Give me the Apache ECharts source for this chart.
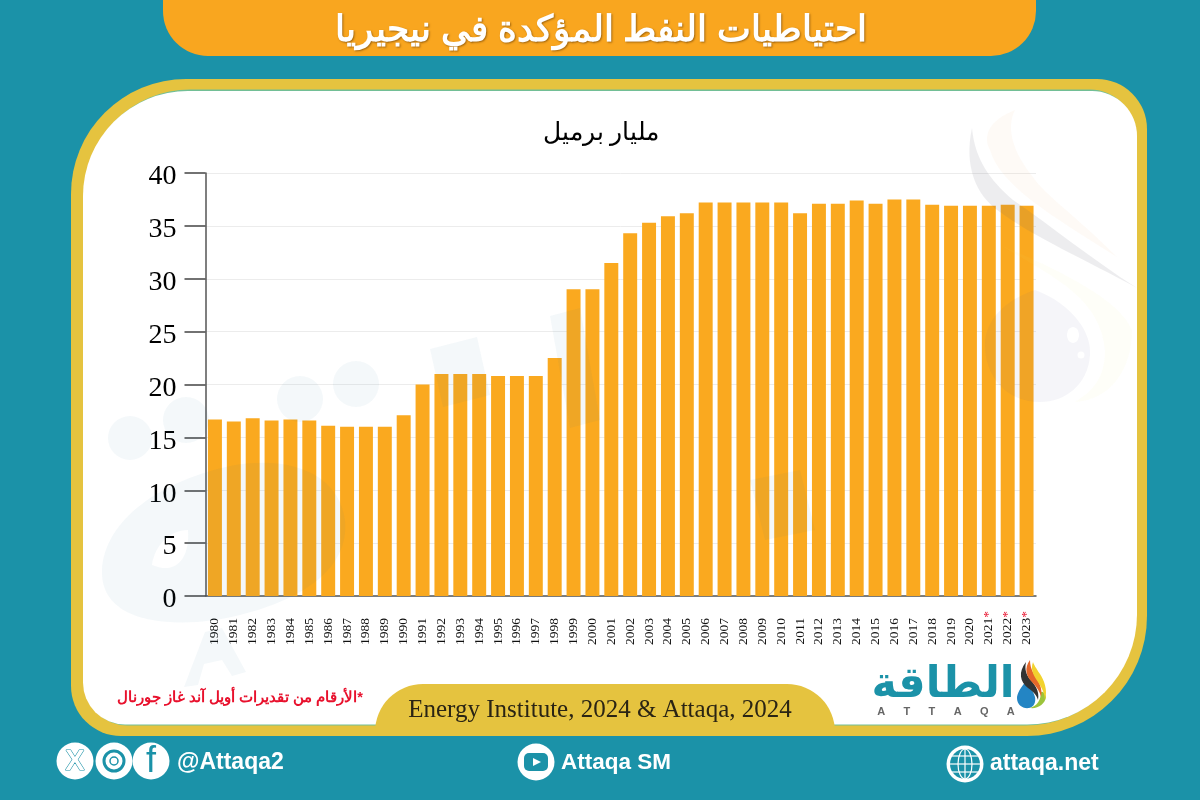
<!DOCTYPE html>
<html>
<head>
<meta charset="utf-8">
<title>احتياطيات النفط المؤكدة في نيجيريا</title>
<script src="https://cdn.jsdelivr.net/npm/echarts@6/dist/echarts.min.js"></script>
<style>
  html, body { margin: 0; padding: 0; background: #1b92a8; }
  #chart { width: 1200px; height: 800px; }
</style>
</head>
<body>
<div id="chart"></div>
<script>
const years = ['1980','1981','1982','1983','1984','1985','1986','1987','1988','1989','1990','1991','1992','1993','1994','1995','1996','1997','1998','1999','2000','2001','2002','2003','2004','2005','2006','2007','2008','2009','2010','2011','2012','2013','2014','2015','2016','2017','2018','2019','2020','2021','2022','2023'];
const reserves = [16.7,16.5,16.8,16.6,16.7,16.6,16.1,16,16,16,17.1,20,21,21,21,20.8,20.8,20.8,22.5,29,29,31.5,34.3,35.3,35.9,36.2,37.2,37.2,37.2,37.2,37.2,36.2,37.1,37.1,37.4,37.1,37.5,37.5,37,36.9,36.9,36.9,37,36.9];
const estimatedYears = ['2021','2022','2023'];

const teal = '#1b92a8';
const gold = '#e5c33f';
const orange = '#f9a61f';
const serif = '"Liberation Serif", serif';
const sans = '"Liberation Sans", sans-serif';

const myChart = echarts.init(document.getElementById('chart'), null, { renderer: 'canvas' });

function text(x, y, str, size, fill, extra, el) {
  return Object.assign({
    type: 'text', z: 20, x, y,
    style: Object.assign({ text: str, fontSize: size, fill, fontFamily: sans, align: 'center', verticalAlign: 'middle' }, extra)
  }, el);
}
// the graphic component has no plain 'path' type, so each outline gets registered as a shape
let shapeCount = 0;
function outline(pathData, fill, z) {
  const name = 'outline' + shapeCount++;
  echarts.graphic.registerShape(name, echarts.graphic.extendPath(pathData, {}));
  return { type: name, z: z || 15, style: { fill } };
}
function disc(cx, cy, r, fill) {
  return { type: 'circle', z: 15, shape: { cx, cy, r }, style: { fill } };
}
const faint = 'rgba(40,110,150,0.05)';

const frame = [
  { type: 'rect', z: -10, shape: { x: 71, y: 79, width: 1076, height: 657, r: [115, 50, 120, 50] }, style: { fill: gold } },
  { type: 'rect', z: -9, shape: { x: 85, y: 89.5, width: 1050, height: 636, r: [105, 45, 110, 42] }, style: { fill: '#72bf96' } },
  { type: 'rect', z: -8, shape: { x: 83, y: 91, width: 1054, height: 633.5, r: [105, 45, 110, 42] }, style: { fill: '#fff' } },
  { type: 'rect', z: 5, shape: { x: 163, y: -40, width: 873, height: 96, r: [0, 0, 45, 45] }, style: { fill: orange } },
  { type: 'rect', z: 5, shape: { x: 375, y: 684, width: 460, height: 100, r: [48, 48, 0, 0] }, style: { fill: gold } },
  { type: 'rect', z: 6, shape: { x: 360, y: 736, width: 490, height: 50 }, style: { fill: teal } }
];

const watermark = [
  outline('M972 128 C964 165 975 195 1000 212 C1030 235 1090 262 1137 288 C1090 258 1050 225 1013 200 C990 180 975 160 972 128 Z', 'rgba(90,90,110,0.11)'),
  outline('M1015 110 C990 120 982 135 990 150 C1000 185 1050 215 1117 257 C1075 215 1045 195 1033 177 C1015 155 1005 130 1015 110 Z', 'rgba(240,150,80,0.05)'),
  outline('M1035 290 C1075 305 1092 335 1090 355 C1088 385 1065 402 1040 402 C1005 402 985 375 985 345 C985 320 1005 300 1035 290 Z', 'rgba(80,80,150,0.06)'),
  outline('M1000 245 C1060 280 1100 300 1105 350 C1105 385 1085 395 1075 402 C1110 400 1132 370 1132 330 C1120 300 1060 270 1000 245 Z', 'rgba(230,230,120,0.05)'),
  { type: 'ellipse', z: 16, shape: { cx: 1073, cy: 335, rx: 6, ry: 8 }, style: { fill: '#fff' } },
  disc(1081, 355, 3.5, '#fff'),
  disc(130, 438, 22, faint),
  disc(186, 420, 23, faint),
  disc(300, 399, 23, faint),
  disc(356, 384, 23, faint),
  outline('M430 349 L477 337 L490 395 L443 407 Z', faint),
  outline('M550 316 L580 308 L600 420 L570 428 Z', faint),
  outline('M102 570 C105 520 160 480 235 465 C300 455 340 480 345 520 C350 570 300 600 240 615 C190 628 100 630 102 570 Z M152 565 C175 575 190 560 188 530 C170 530 155 545 152 565 Z', faint),
  outline('M184 687 L205 632 L222 628 L246 672 L232 676 L222 660 L204 664 L198 685 Z', faint),
  outline('M750 480 L800 470 L815 530 L765 540 Z', faint)
];

const logo = [
  text(943, 686, 'الطاقة', 43, teal, { fontWeight: 'bold', fontFamily: '"DejaVu Sans", sans-serif' }),
  text(946, 712, 'A      T      T      A      Q      A', 11, '#666', { fontWeight: 'bold' }),
  outline('M1027 680 C1020 688 1017 694 1017 698 C1017 705 1023 709 1029 708 C1034 707 1036 702 1035 697 C1033 690 1029 686 1027 680 Z', '#2385c4', 20),
  outline('M1026 662 C1018 672 1020 682 1028 688 C1034 692 1037 696 1038 700 C1040 690 1034 684 1029 678 C1025 672 1025 667 1026 662 Z', '#333', 21),
  outline('M1030 660 C1024 668 1026 676 1032 682 C1037 687 1040 692 1041 697 C1043 688 1038 680 1034 674 C1031 669 1030 665 1030 660 Z', '#e4672a', 22),
  outline('M1033 662 C1030 670 1034 676 1038 682 C1042 688 1045 694 1045 700 C1048 690 1044 680 1040 674 C1036 668 1034 665 1033 662 Z', '#f2d22e', 22),
  outline('M1041 692 C1041 700 1037 706 1030 708 C1038 709 1045 704 1046 697 C1045 693 1043 691 1041 692 Z', '#9cc43c', 21)
];

const social = [
  disc(75, 761, 18.5, '#fff'),
  text(75, 762, 'X', 29, '#fff', { fontWeight: 'bold', stroke: teal, lineWidth: 1.2 }),
  disc(114, 761, 18.5, '#fff'),
  { type: 'circle', z: 21, shape: { cx: 114, cy: 761, r: 10 }, style: { fill: 'none', stroke: teal, lineWidth: 3 } },
  { type: 'circle', z: 21, shape: { cx: 114, cy: 761, r: 4 }, style: { fill: 'none', stroke: teal, lineWidth: 1.5 } },
  disc(151, 761, 18.5, '#fff'),
  text(151, 762, 'f', 36, teal, {}),
  text(177, 763, '@Attaqa2', 23, '#fff', { fontWeight: 'bold', align: 'left' }),
  disc(536, 762, 18.5, '#fff'),
  { type: 'rect', z: 21, shape: { x: 524, y: 753, width: 24, height: 18, r: 5 }, style: { fill: teal } },
  { type: 'polygon', z: 22, shape: { points: [[533, 758], [541, 762], [533, 766]] }, style: { fill: '#fff' } },
  text(561, 763, 'Attaqa SM', 22.5, '#fff', { fontWeight: 'bold', align: 'left' }),
  disc(965, 764, 18.5, '#fff'),
  { type: 'circle', z: 21, shape: { cx: 965, cy: 764, r: 15 }, style: { fill: teal } },
  { type: 'ellipse', z: 22, shape: { cx: 965, cy: 764, rx: 7, ry: 15 }, style: { fill: 'none', stroke: '#fff', lineWidth: 1.2 } },
  { type: 'line', z: 22, shape: { x1: 965, y1: 749, x2: 965, y2: 779 }, style: { stroke: '#fff', lineWidth: 1.2 } },
  { type: 'line', z: 22, shape: { x1: 950, y1: 764, x2: 980, y2: 764 }, style: { stroke: '#fff', lineWidth: 1.2 } },
  { type: 'line', z: 22, shape: { x1: 952, y1: 756, x2: 978, y2: 756 }, style: { stroke: '#fff', lineWidth: 1.2 } },
  { type: 'line', z: 22, shape: { x1: 952, y1: 772, x2: 978, y2: 772 }, style: { stroke: '#fff', lineWidth: 1.2 } },
  text(990, 764, 'attaqa.net', 23, '#fff', { fontWeight: 'bold', align: 'left' })
];

const labels = [
  text(601, 31, 'احتياطيات النفط المؤكدة في نيجيريا', 35.5, '#fff', { fontWeight: 'bold', textShadowColor: 'rgba(90,50,0,0.55)', textShadowBlur: 2, textShadowOffsetX: 1, textShadowOffsetY: 1 }),
  text(601, 133, 'مليار برميل', 25, '#000'),
  text(240, 698, 'الأرقام من تقديرات أويل آند غاز جورنال*', 14.5, '#e8112d', { fontWeight: 'bold' }),
  text(600, 710, 'Energy Institute, 2024 & Attaqa, 2024', 25, '#2a2414', { fontFamily: serif })
];

const option = {
  backgroundColor: teal,
  animation: false,
  grid: { left: 205.5, right: 164, top: 173, bottom: 204 },
  xAxis: {
    type: 'category',
    data: years,
    axisTick: { alignWithLabel: true, length: 11, lineStyle: { color: '#333', width: 1 } },
    axisLine: { lineStyle: { color: '#555', width: 1.5 } },
    axisLabel: {
      interval: 0,
      rotate: 90,
      margin: 15,
      formatter(v) {
        return estimatedYears.includes(v) ? '{y|' + v + '}{s|*}' : '{n|' + v + '}';
      },
      rich: {
        n: { fontFamily: serif, fontSize: 13.5, color: '#111', padding: [0, 7, 0, 0] },
        y: { fontFamily: serif, fontSize: 13.5, color: '#111' },
        s: { fontFamily: serif, fontSize: 13.5, color: '#e8112d' }
      }
    }
  },
  yAxis: {
    type: 'value',
    min: 0,
    max: 40,
    interval: 5,
    axisLine: { show: true, lineStyle: { color: '#555', width: 1.5 } },
    axisTick: { show: true, length: 21, lineStyle: { color: '#444', width: 1.5 } },
    axisLabel: {
      margin: 29,
      formatter: '{v|{value}}',
      rich: { v: { fontFamily: serif, fontSize: 28, color: '#000', padding: [8, 0, 0, 0] } }
    },
    splitLine: { lineStyle: { color: '#ececec', width: 1 } }
  },
  series: [{
    type: 'bar',
    data: reserves,
    barCategoryGap: '26%',
    itemStyle: { color: '#faa91f' }
  }],
  graphic: { elements: [...frame, ...watermark, ...logo, ...social, ...labels] }
};

myChart.setOption(option);
window.addEventListener('resize', () => {
  myChart.resize();
});
</script>
</body>
</html>
